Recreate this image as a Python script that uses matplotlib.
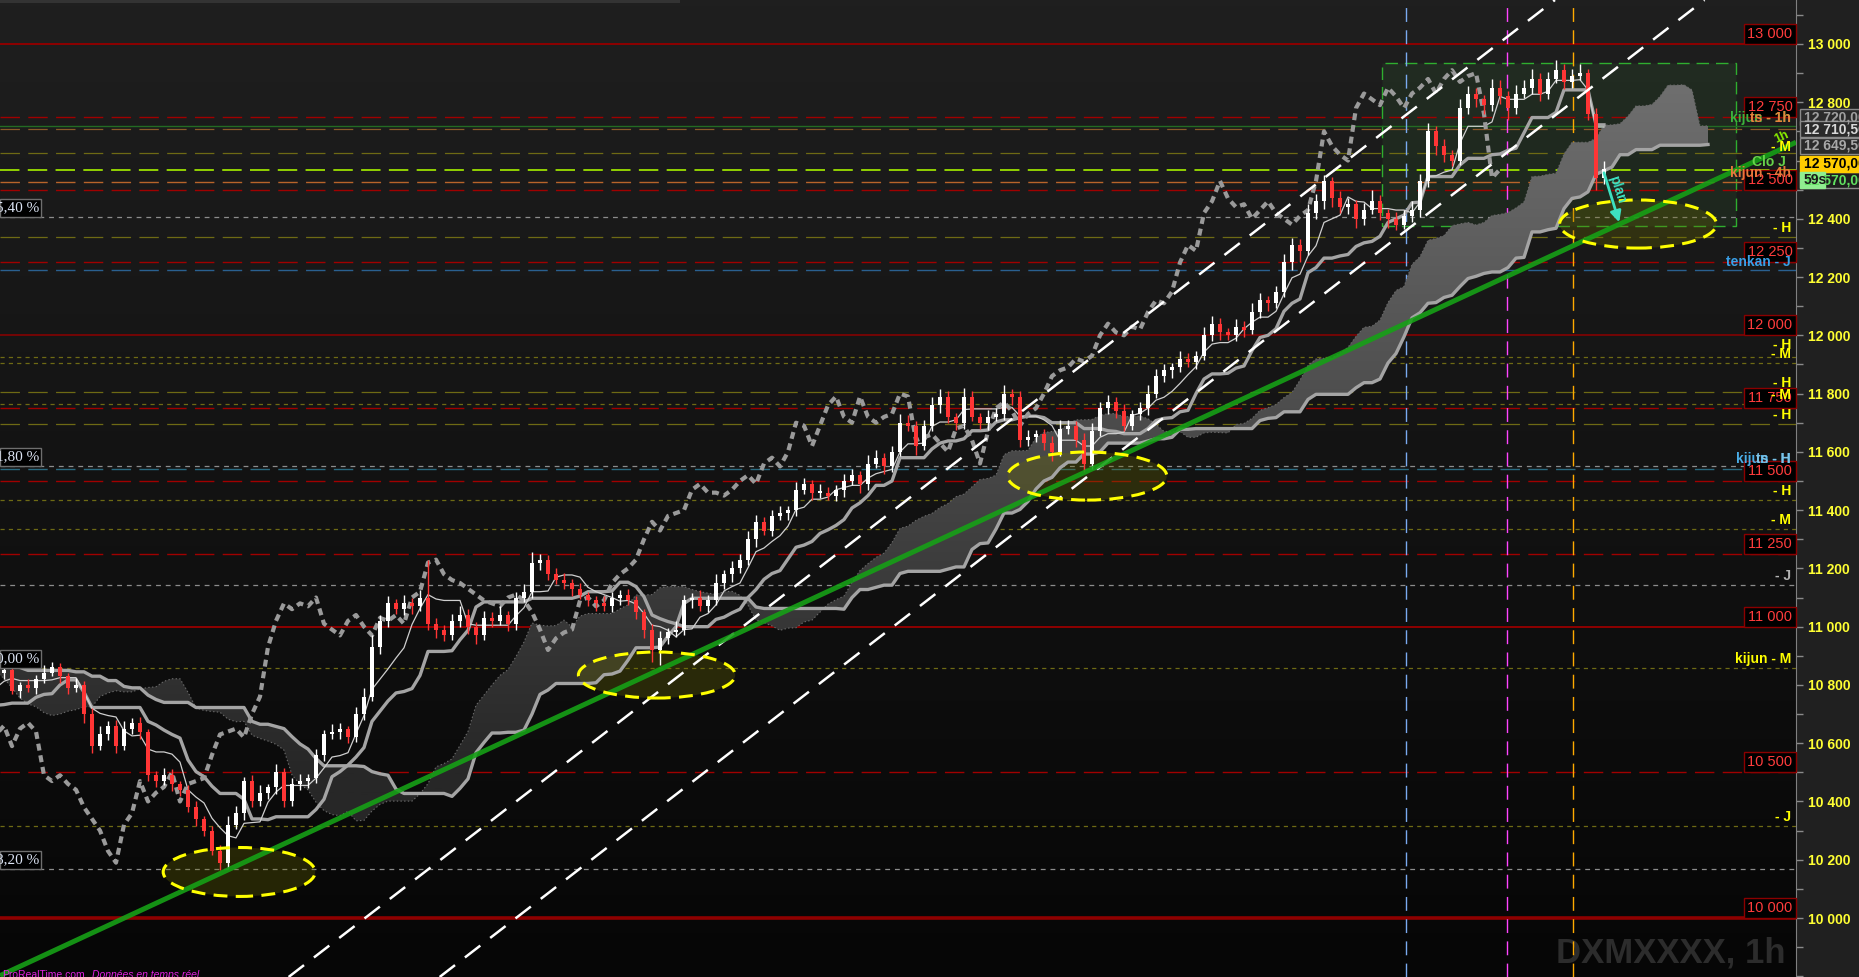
import numpy as np
import pandas as pd
import matplotlib
matplotlib.use('Agg')
import matplotlib.pyplot as plt
from matplotlib.patches import Rectangle, Ellipse
from matplotlib.colors import LinearSegmentedColormap
from matplotlib.path import Path
import matplotlib.transforms as mtransforms
from matplotlib.ticker import FuncFormatter

plt.rcParams['font.family'] = ['Liberation Sans', 'DejaVu Sans']
plt.rcParams['lines.scale_dashes'] = False

# ---------------- data (1h candles) ----------------
# closes before the first visible candle (only used for the ichimoku windows)
pre_closes = [10900, 10940, 10980, 11020, 11000, 11050, 11080, 11060, 11100, 11070,
              11090, 11040, 11060, 11010, 11030, 10990, 10960, 10980, 10930, 10900,
              10870, 10880, 10830, 10790, 10760, 10720, 10690, 10650, 10620, 10600,
              10640, 10680, 10660, 10720, 10760, 10790, 10820, 10810]

closes = [10840, 10850, 10780, 10800, 10790, 10820, 10840, 10860, 10830, 10790,
          10800, 10700, 10590, 10630, 10660, 10590, 10650, 10670, 10640, 10490,
          10470, 10490, 10460, 10440, 10380, 10340, 10300, 10230, 10190, 10320,
          10360, 10470, 10400, 10430, 10450, 10500, 10400, 10460, 10470, 10480,
          10560, 10630, 10640, 10650, 10620, 10700, 10760, 10930, 11020, 11080,
          11060, 11080, 11070, 11100, 11010, 10990, 10970, 11020, 11040, 11000,
          10970, 11030, 11020, 11040, 11010, 11100, 11120, 11220, 11230, 11180,
          11160, 11150, 11130, 11110, 11090, 11080, 11070, 11100, 11110, 11090,
          11050, 10990, 10920, 10960, 10980, 10990, 11090, 11100, 11070, 11090,
          11150, 11180, 11200, 11230, 11300, 11360, 11330, 11380, 11390, 11400,
          11470, 11490, 11460, 11460, 11450, 11470, 11500, 11520, 11490, 11560,
          11580, 11550, 11600, 11700, 11690, 11620, 11690, 11760, 11790, 11720,
          11700, 11790, 11720, 11700, 11720, 11730, 11800, 11790, 11640, 11650,
          11660, 11630, 11600, 11680, 11690, 11640, 11560, 11670, 11750, 11770,
          11740, 11690, 11730, 11750, 11800, 11860, 11880, 11890, 11920, 11910,
          11930, 12000, 12040, 12010, 12000, 12030, 12020, 12080, 12120, 12110,
          12150, 12250, 12310, 12290, 12420, 12460, 12530, 12470, 12440, 12450,
          12400, 12430, 12460, 12420, 12400, 12380, 12410, 12430, 12530, 12700,
          12650, 12620, 12600, 12780, 12830, 12810, 12790, 12850, 12820, 12780,
          12830, 12850, 12880, 12830, 12880, 12910, 12870, 12890, 12900, 12760,
          12540, 12570]

wick_up = [20, 15, 25, 10, 20, 15, 30, 20, 15, 10, 25, 15, 20, 30, 15, 20, 25, 15, 20, 10,
           15, 25, 20, 10, 15, 20, 10, 15, 20, 30, 25, 15, 20, 25, 10, 30, 15, 20, 25, 15,
           20, 15, 25, 20, 10, 25, 30, 40, 20, 25, 15, 30, 20, 25, 130, 20, 15, 25, 30, 20,
           15, 25, 20, 30, 15, 20, 25, 35, 20, 15, 20, 25, 15, 20, 10, 15, 25, 20, 15, 20,
           15, 10, 20, 25, 15, 30, 20, 15, 25, 20, 30, 15, 25, 20, 30, 25, 15, 20, 25, 15,
           25, 20, 15, 30, 20, 15, 25, 20, 15, 30, 25, 15, 20, 30, 25, 15, 20, 30, 25, 20,
           15, 30, 20, 15, 25, 20, 30, 15, 20, 25, 15, 20, 25, 30, 20, 15, 25, 30, 20, 25,
           20, 25, 15, 20, 30, 25, 20, 15, 25, 20, 15, 30, 25, 20, 15, 25, 20, 30, 25, 15,
           20, 30, 25, 20, 30, 25, 20, 15, 25, 20, 15, 25, 40, 20, 15, 25, 20, 30, 25, 30,
           20, 25, 15, 30, 25, 20, 15, 30, 25, 20, 30, 25, 35, 20, 25, 35, 20, 25, 30, 15,
           20, 30]

wick_dn = [15, 20, 10, 25, 15, 20, 15, 10, 25, 20, 15, 30, 25, 15, 20, 25, 15, 20, 25, 20,
           20, 15, 25, 20, 15, 25, 20, 15, 25, 20, 15, 25, 20, 15, 20, 25, 20, 15, 20, 25,
           15, 20, 15, 25, 20, 15, 20, 15, 25, 20, 15, 20, 25, 15, 20, 30, 20, 15, 20, 25,
           30, 15, 20, 15, 25, 20, 15, 20, 25, 20, 15, 20, 25, 15, 20, 25, 15, 20, 25, 15,
           25, 30, 40, 50, 20, 15, 20, 25, 15, 20, 15, 20, 25, 15, 20, 25, 15, 20, 15, 25,
           20, 15, 25, 20, 15, 20, 25, 15, 30, 20, 15, 25, 20, 15, 20, 30, 15, 20, 25, 20,
           25, 20, 15, 20, 25, 15, 20, 30, 25, 20, 15, 25, 30, 15, 20, 25, 30, 20, 15, 20,
           25, 20, 15, 20, 25, 15, 20, 25, 15, 20, 25, 15, 20, 25, 15, 20, 25, 15, 20, 25,
           15, 20, 25, 40, 15, 20, 25, 30, 20, 25, 30, 20, 15, 25, 30, 20, 15, 20, 25, 20,
           30, 25, 20, 15, 20, 25, 30, 20, 25, 40, 20, 15, 20, 25, 20, 15, 25, 20, 15, 20,
           40, 20]

# horizontal levels
red_solid = [13000, 12000, 11000, 10000]
red_solid_lw = [1.4, 1.1, 1.4, 2.6]
red_dashed = [12750, 12500, 12250, 11750, 11500, 11250, 10500]
box_levels = [13000, 12750, 12500, 12250, 12000, 11750, 11500, 11250, 11000, 10500, 10000]
olive_long = [12625, 12337, 11805, 11697]
olive_short = [11926, 11905, 11764, 11435, 11335, 10858, 10316]
gray_short = [12406, 11551, 11143, 10168]

pct_levels = [12406, 11551, 10858, 10168]
pct_labels = ['5,40 %', '1,80 %', '0,00 %', '8,20 %']

side_text = ['kijun - 1h', 'ts - 1h', '- M', 'Clo J', 'kijun - 4h', '- H', 'tenkan - J',
             '- H', '- M', '- H', '- M', '- H', 'kijun - H', 'ts - H', '- H', '- M', '- J',
             'kijun - M', '- J']
side_y = [12746, 12746, 12646, 12595, 12557, 12368, 12252,
          11967, 11936, 11836, 11795, 11727, 11575, 11575, 11466, 11366, 11174,
          10889, 10347]
side_col = ['#3cb43c', '#e8803c', '#ffff00', '#66d24a', '#e8783c', '#ffff00', '#3aa0e8',
            '#ffff00', '#ffff00', '#ffff00', '#ffff00', '#ffff00', '#4aaee8', '#7cc4e8',
            '#ffff00', '#ffff00', '#b4b4b4', '#ffff00', '#ffff00']

# time markers, channel, trend line, zones (candle index / price)
vmark_x = [176.25, 188.9, 197.1]
vmark_col = ['#7aaaf0', '#ff44ff', '#ffaa00']
chan_top = [(77.1, 10656), (187.6, 12997)]
chan_mid = [(96.4, 10666), (207.1, 13014)]
trend = [(20.9, 10062), (225.1, 12664)]
ell_x = [30.4, 82.6, 136.4, 205.25]
ell_y = [10158, 10834, 11517, 12382]
ell_w = [19.0, 19.6, 19.9, 19.6]
ell_h = [168, 158, 165, 165]

X0, X1 = 0.5, 225.0
Y0, Y1 = 9797.5, 13151.0
W_PX, H_PX, AX_PX = 1859, 977, 1796

# ---------------- candles + ichimoku ----------------
n = len(closes)
idx = np.arange(n)
c = np.array(closes, float)
o = np.concatenate([[pre_closes[-1]], c[:-1]])
h = np.maximum(o, c) + np.array(wick_up)
l = np.minimum(o, c) - np.array(wick_dn)

pc = np.array(pre_closes, float)
po = np.concatenate([[pc[0]], pc[:-1]])
H = pd.Series(np.concatenate([np.maximum(po, pc), h]))
L = pd.Series(np.concatenate([np.minimum(po, pc), l]))
C = np.concatenate([pc, c])
xs = np.arange(-len(pc), n)


def mid(p):
    return ((H.rolling(p).max() + L.rolling(p).min()) / 2).values


tenkan = mid(5)
kijun = mid(13)
span_b = mid(26)
span_a = (tenkan + kijun) / 2
shift = 13

# ---------------- figure ----------------
fig = plt.figure(figsize=(W_PX / 100, H_PX / 100), dpi=100, facecolor='#202020')
ax = fig.add_axes([0, 0, AX_PX / W_PX, 1])
blend = mtransforms.blended_transform_factory(ax.transAxes, ax.transData)

bg_cmap = LinearSegmentedColormap.from_list('bg', ['#060606', '#1f1f1f'])
ax.imshow(np.linspace(0, 1, 256).reshape(-1, 1), extent=(X0, X1, Y0, Y1), origin='lower',
          cmap=bg_cmap, aspect='auto', zorder=0, interpolation='bilinear')

# green zone box
ax.add_patch(Rectangle((173.25, 12375), 217.5 - 173.25, 12935 - 12375,
                       facecolor=(0.25, 0.55, 0.25, 0.13), edgecolor='#2fae2f', lw=1,
                       ls=(0, (9, 5)), zorder=1.5))

# horizontal lines
for y, lw in zip(red_solid, red_solid_lw):
    ax.axhline(y, color='#8e0000', lw=lw, zorder=2)
for y in red_dashed:
    ax.axhline(y, color='#a00000', lw=1.0, ls=(0, (14, 6)), zorder=2)
for y in olive_long:
    ax.axhline(y, color='#6e6a14', lw=0.9, ls=(0, (14, 6)), zorder=2)
for y in olive_short:
    ax.axhline(y, color='#6e6a14', lw=0.9, ls=(0, (3, 3)), zorder=2)
for y in gray_short:
    ax.axhline(y, color='#8c8c8c', lw=0.9, ls=(0, (3.5, 3.5)), zorder=2)
ax.axhline(12717, color='#236b23', lw=1.0, zorder=2)
ax.axhline(12708, color='#8a5a28', lw=0.9, ls=(0, (14, 6)), zorder=2)
ax.axhline(12567, color='#9be000', lw=1.3, ls=(0, (14, 6)), zorder=2)
ax.axhline(12526, color='#b8642a', lw=1.0, ls=(0, (14, 6)), zorder=2)
ax.axhline(12224, color='#2a6090', lw=1.0, ls=(0, (14, 6)), zorder=2)
ax.axhline(11541, color='#2a6a80', lw=1.0, ls=(0, (14, 6)), zorder=2)

for x, col in zip(vmark_x, vmark_col):
    ax.axvline(x, color=col, lw=1.0, ls=(0, (10, 6)), zorder=2.5)

# kumo with height-dependent shade
xa = xs + shift
ok = ~np.isnan(span_b)
xv, av, bv = xa[ok], span_a[ok], span_b[ok]
verts = np.vstack([np.column_stack([xv, av]), np.column_stack([xv[::-1], bv[::-1]]), [[xv[0], av[0]]]])
cloud_path = Path(verts, closed=True)
prices = np.linspace(Y0, Y1, 512)
shade = np.clip((prices - 10500) / 2400, 0, 1).reshape(-1, 1)
cl_cmap = LinearSegmentedColormap.from_list('cl', ['#272727', '#707070'])
im = ax.imshow(shade, extent=(xv[0], xv[-1], Y0, Y1), origin='lower', cmap=cl_cmap,
               vmin=0, vmax=1, aspect='auto', zorder=3)
im.set_clip_path(cloud_path, transform=ax.transData)
ax.plot(xv, av, color='#6a6a6a', lw=0.8, ls=':', zorder=3.5)
ax.plot(xv, bv, color='#a4a4a4', lw=2.4, zorder=4.5)

# ellipse fills
for ex, ey, ew, eh in zip(ell_x, ell_y, ell_w, ell_h):
    ax.add_patch(Ellipse((ex, ey), ew, eh, facecolor='#6a6a00', alpha=0.3, edgecolor='none', zorder=4))

# ichimoku lines
m = xs >= -1
ax.plot(xs[m], kijun[m], color='#a4a4a4', lw=2.4, zorder=4.6)
ax.plot(xs[m], tenkan[m], color='#cfcfcf', lw=0.9, zorder=4.7)
ax.plot(xs - shift, C, color='#9a9a9a', lw=3.0, ls=(0, (5, 3.5)), zorder=4.8)

# candles
up = c >= o
cols = np.where(up, '#ffffff', '#ff3535')
ax.vlines(idx, l, h, colors=cols, lw=1, zorder=6)
ax.bar(idx, np.maximum(np.abs(c - o), 4), bottom=np.minimum(o, c), width=0.55,
       color=cols, edgecolor='none', zorder=6.1)

# channel and trend line
for p1, p2 in (chan_top, chan_mid):
    ax.axline(p1, p2, color='white', lw=1.8, ls=(0, (14, 9)), zorder=6.3)
ax.axline(trend[0], trend[1], color='#16a016', lw=3.6, alpha=0.9, zorder=6.5,
          solid_capstyle='butt')
ax.text(223.25, 12681, '1h', color='#88ee00', fontsize=9, fontweight='bold', rotation=25,
        ha='center', va='center', zorder=8)

for ex, ey, ew, eh in zip(ell_x, ell_y, ell_w, ell_h):
    ax.add_patch(Ellipse((ex, ey), ew, eh, fill=False, edgecolor='#ffff00', lw=2.2,
                         ls=(0, (10, 6)), zorder=7))

# plan arrow
ax.annotate('', xy=(203.0, 12379), xytext=(200.9, 12567),
            arrowprops=dict(arrowstyle='-|>', color='#3de0c0', lw=2, mutation_scale=16), zorder=8)
ax.text(202.6, 12500, 'plan', rotation=-72, color='#3de0c0', fontsize=10, fontweight='bold',
        ha='center', va='center', zorder=8)

# level boxes on the right edge
bw = 52 / AX_PX
bh = 20 * (Y1 - Y0) / H_PX
for y in box_levels:
    ax.add_patch(Rectangle((1 - bw, y), bw, bh, transform=blend, facecolor='black',
                           edgecolor='#8b0000', lw=1, zorder=8, clip_on=False))
    ax.text(1 - bw / 2, y + bh / 2, f"{y:,}".replace(',', ' '), transform=blend, color='#ff3c3c',
            fontsize=10.5, ha='center', va='center', zorder=8.5)

for txt, y, col in zip(side_text, side_y, side_col):
    xr = 1 - 10 / AX_PX if txt == 'Clo J' else 1 - 5 / AX_PX
    ax.text(xr, y, txt, transform=blend, color=col, fontsize=10, fontweight='bold',
            ha='right', va='center', zorder=9)

# percentage boxes on the left edge
ph_ = 18 * (Y1 - Y0) / H_PX
for y, txt in zip(pct_levels, pct_labels):
    ax.add_patch(Rectangle((0, y), 41 / AX_PX, ph_, transform=blend, facecolor='black',
                           edgecolor='#6e6e6e', lw=1, zorder=8))
    ax.text(-4 / AX_PX, y + ph_ / 2, txt, transform=blend, color='#dce4f4', fontsize=11,
            family='Liberation Serif', ha='left', va='center', zorder=8.5, clip_on=True)

ax.text(1785 / AX_PX, 1 - 953 / H_PX, 'DXMXXXX, 1h', transform=ax.transAxes, color='#2c2c2c',
        fontsize=25, fontweight='bold', ha='right', va='center', zorder=1)

# axis
ax.set_xlim(X0, X1)
ax.set_ylim(Y0, Y1)
ax.set_xticks([])
ax.yaxis.tick_right()
ax.set_yticks(np.arange(10000, 13001, 200))
ax.set_yticks(np.arange(9800, 13101, 100), minor=True)
ax.yaxis.set_major_formatter(FuncFormatter(lambda v, p: f"{int(v):,}".replace(',', ' ')))
ax.tick_params(axis='y', which='both', colors='#8a8a8a', length=5, width=1,
               labelcolor='#ffff33', labelsize=10, pad=4)
plt.setp(ax.get_yticklabels(), fontweight='bold')
for s in ('left', 'top', 'bottom'):
    ax.spines[s].set_visible(False)
ax.spines['right'].set_color('#808080')

# price tags on the axis (cut by the picture edge)
def tag(y_px, txt, fc, tc, ec, x0=1800, w=80, hgt=16):
    fig.patches.append(Rectangle((x0 / W_PX, 1 - (y_px + hgt / 2) / H_PX), w / W_PX, hgt / H_PX,
                                 transform=fig.transFigure, facecolor=fc, edgecolor=ec, lw=1,
                                 zorder=5))
    fig.text((x0 + 4) / W_PX, 1 - y_px / H_PX, txt, color=tc, fontsize=10, fontweight='bold',
             ha='left', va='center', zorder=6)

tag(117, '12 720,00', '#2b2b2b', '#a0a0a0', '#8a8a8a')
tag(129, '12 710,50', '#2b2b2b', '#d8d8d8', '#8a8a8a')
tag(146, '12 649,50', '#2b2b2b', '#a8a8a8', '#8a8a8a')
tag(180, '12 570,00', '#1e1e1e', '#60e060', '#8a8a8a')
tag(164, '12 570,00', '#ffcc00', '#000000', '#ffcc00')
tag(180, '59s', '#90ee90', '#1a1a1a', '#90ee90', w=25)

fig.patches.append(Rectangle((0, 1 - 3 / H_PX), 680 / W_PX, 3 / H_PX, transform=fig.transFigure,
                             facecolor='#333333', edgecolor='none', zorder=5))
fig.text(0.001, 1 - 970 / H_PX, 'ProRealTime.com', color='#e020e0', fontsize=7.5, va='top', zorder=6)
fig.text(92 / W_PX, 1 - 970 / H_PX, 'Données en temps réel', color='#e020e0', fontsize=7.5,
         style='italic', va='top', zorder=6)

fig.savefig('out.png', dpi=100, facecolor=fig.get_facecolor())
